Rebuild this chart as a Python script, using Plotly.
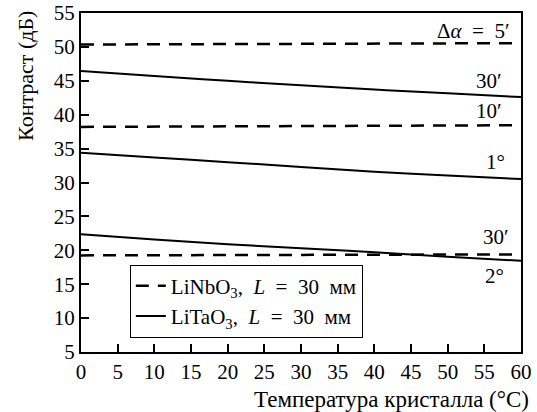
import plotly.graph_objects as go

temps = [0, 10, 20, 30, 40, 50, 60]

# LiNbO3 (dashed)
nb_5min = [50.35, 50.38, 50.42, 50.45, 50.48, 50.52, 50.55]
nb_10min = [38.2, 38.25, 38.3, 38.33, 38.37, 38.41, 38.45]
nb_30min = [19.25, 19.28, 19.3, 19.32, 19.35, 19.37, 19.4]

# LiTaO3 (solid)
ta_30min = [46.45, 45.7, 45.0, 44.35, 43.7, 43.15, 42.6]
ta_1deg = [34.4, 33.7, 33.0, 32.3, 31.6, 31.05, 30.5]
ta_2deg = [22.35, 21.6, 20.9, 20.3, 19.7, 19.05, 18.45]

curve_labels = ["Δ<i>α</i>\u2002=\u20025′", "30′", "10′", "1°", "30′", "2°"]
label_x = [58.6, 57.7, 57.7, 58.1, 58.7, 57.9]
label_y = [52.4, 45.0, 40.55, 33.06, 21.97, 16.24]

xticks = list(range(0, 61, 5))
yticks = list(range(5, 56, 5))

FONT = "Liberation Serif"
FS = 21
dash = "13px,9px"

fig = go.Figure()
dashed = [nb_5min, nb_10min, nb_30min]
solid = [ta_30min, ta_1deg, ta_2deg]
for i, ys in enumerate(dashed):
    fig.add_trace(go.Scatter(x=temps, y=ys, mode="lines",
                             line=dict(color="black", width=2.5, dash=dash),
                             name="LiNbO<sub>3</sub>,\u2002<i>L</i>\u2002=\u200230\u2002мм",
                             showlegend=(i == 0), legendrank=1))
for i, ys in enumerate(solid):
    fig.add_trace(go.Scatter(x=temps, y=ys, mode="lines", line_shape="spline",
                             line=dict(color="black", width=2),
                             name="LiTaO<sub>3</sub>,\u2002<i>L</i>\u2002=\u200230\u2002мм",
                             showlegend=(i == 0), legendrank=2))

for t, lx, ly in zip(curve_labels, label_x, label_y):
    fig.add_annotation(x=lx, y=ly, text=t, showarrow=False, xanchor="right",
                       yanchor="middle", font=dict(family=FONT, size=FS, color="black"))

# axis titles (x title right-aligned, y title top-aligned as in the reference)
fig.add_annotation(xref="paper", yref="paper", x=1.022, y=-0.098,
                   xanchor="right", yanchor="top", showarrow=False,
                   text="Температура кристалла (°C)",
                   font=dict(family=FONT, size=23, color="black"))
fig.add_annotation(xref="paper", yref="paper", x=-0.125, y=1.012,
                   xanchor="center", yanchor="top", showarrow=False, textangle=-90,
                   text="Контраст (дБ)",
                   font=dict(family=FONT, size=22, color="black"))

axis_common = dict(showline=True, linecolor="black", linewidth=2, mirror=True,
                   ticks="inside", ticklen=8, tickwidth=1.5, tickcolor="black",
                   showgrid=False, zeroline=False, automargin=False,
                   tickfont=dict(family=FONT, size=FS, color="black"))

fig.update_xaxes(range=[0, 60], tickvals=xticks, **axis_common)
fig.update_yaxes(range=[5, 55], tickvals=yticks, **axis_common)

fig.update_layout(
    width=537, height=412,
    margin=dict(l=81, r=16, t=13, b=60, autoexpand=False),
    plot_bgcolor="white", paper_bgcolor="white",
    font=dict(family=FONT, size=FS, color="black"),
    legend=dict(x=0.111, y=0.258, xanchor="left", yanchor="top",
                bordercolor="black", borderwidth=1, bgcolor="white",
                font=dict(family=FONT, size=FS, color="black"),
                tracegroupgap=0, itemwidth=30),
)

fig.write_html("out.html", config={"displayModeBar": False},
               post_script="document.body.style.margin='0';")
